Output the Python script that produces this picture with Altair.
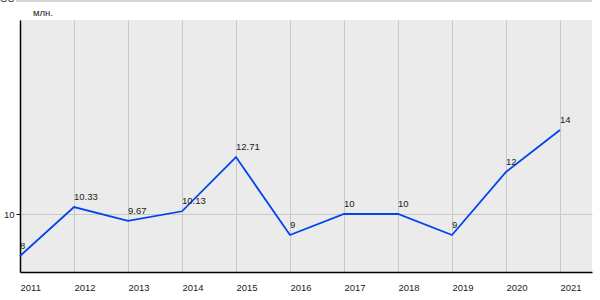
import altair as alt
import pandas as pd

years = [2011, 2012, 2013, 2014, 2015, 2016, 2017, 2018, 2019, 2020, 2021]
values = [8, 10.33, 9.67, 10.13, 12.71, 9, 10, 10, 9, 12, 14]
labels = ["8", "10.33", "9.67", "10.13", "12.71", "9", "10", "10", "9", "12", "14"]
unit_label = "млн."
y_ticks = [10]

df = pd.DataFrame({"year": years, "value": values, "label": labels})

W, H = 572, 252
FONT = "Liberation Sans"

x_scale = alt.Scale(domain=[2011, 2011 + W / 54.0], nice=False, zero=False)
y_scale = alt.Scale(domain=[10 - 58 / 21.0, 10 + 194 / 21.0], nice=False, zero=False)

x_enc = alt.X("year:Q", scale=x_scale,
              axis=alt.Axis(values=years, format="d", title=None, grid=True,
                            gridColor="#c8c8c8", gridWidth=1, ticks=False,
                            labelAlign="left", labelPadding=10, labelFont=FONT,
                            labelFontSize=9.5, labelColor="#222",
                            domainColor="#000", domainWidth=1.5, labelFlush=False))
y_enc = alt.Y("value:Q", scale=y_scale,
              axis=alt.Axis(values=y_ticks, format="d", title=None, grid=True,
                            gridColor="#c8c8c8", gridWidth=1, ticks=True, tickSize=4,
                            tickColor="#000", labelPadding=2, labelFont=FONT,
                            labelFontSize=9.5, labelColor="#222",
                            domainColor="#000", domainWidth=1.5))

line = alt.Chart(df).mark_line(color="#0044ee", strokeWidth=1.8, clip=False).encode(
    x=x_enc, y=y_enc)

text = alt.Chart(df).mark_text(align="left", baseline="alphabetic", dx=0, dy=-7,
                               font=FONT, fontSize=9.5, color="#222").encode(
    x=alt.X("year:Q", scale=x_scale), y=alt.Y("value:Q", scale=y_scale), text="label:N")

unit = alt.Chart(pd.DataFrame({"t": [unit_label]})).mark_text(
    align="left", baseline="middle", font=FONT, fontSize=9.5, color="#222").encode(
    x=alt.value(13), y=alt.value(-7), text="t:N")

top_rule = alt.Chart(pd.DataFrame({"a": [0]})).mark_rule(
    color="#c8c8c8", strokeWidth=1.5).encode(
    x=alt.value(-4), x2=alt.value(W), y=alt.value(-19))

top_text = alt.Chart(pd.DataFrame({"t": ["ОС"]})).mark_text(
    align="left", baseline="alphabetic", font=FONT, fontSize=9.5, color="#222").encode(
    x=alt.value(-20), y=alt.value(-18), text="t:N")

chart = alt.layer(line, text, unit, top_rule, top_text).properties(
    width=W, height=H,
    autosize=alt.AutoSizeParams(type="none"),
    padding={"left": 20, "top": 20, "right": 8, "bottom": 28},
    background="white",
).configure_view(fill="#ebebeb", stroke=None)

chart.save("out.html", embed_options={"renderer": "svg", "actions": False})
